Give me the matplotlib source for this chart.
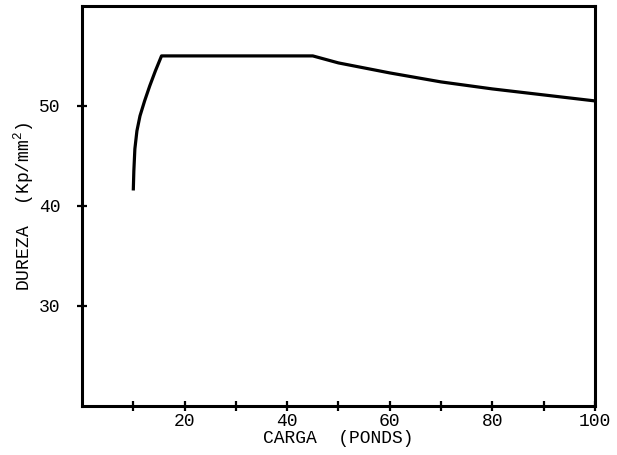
import numpy as np
import matplotlib
matplotlib.use('Agg')
import matplotlib.pyplot as plt

# Dureza vs carga
carga = [10, 10.1, 10.3, 10.7, 11.3, 12.2, 13.2, 14.3, 15.5, 20, 30, 40, 45,
         50, 60, 70, 80, 90, 100]
dureza = [41.7, 43.5, 45.7, 47.5, 49.0, 50.5, 52.0, 53.5, 55.0, 55.0, 55.0, 55.0, 55.0,
          54.3, 53.3, 52.4, 51.7, 51.1, 50.5]

x_ticks = [10, 20, 30, 40, 50, 60, 70, 80, 90, 100]
x_labels = ['', '20', '', '40', '', '60', '', '80', '', '100']
y_ticks = [30, 40, 50]
y_labels = ['30', '40', '50']

plt.rcParams['font.family'] = ['Liberation Mono', 'DejaVu Sans']
plt.rcParams['mathtext.fontset'] = 'custom'
plt.rcParams['mathtext.rm'] = 'Liberation Mono'

fig = plt.figure(figsize=(6.17, 4.55), dpi=100)
ax = fig.add_axes([0.133, 0.108, 0.831, 0.879])

ax.plot(carga, dureza, color='black', linewidth=2.3, solid_joinstyle='round')

ax.set_xlim(0, 100)
ax.set_ylim(20, 60)
ax.set_xticks(x_ticks)
ax.set_xticklabels(x_labels)
ax.set_yticks(y_ticks)
ax.set_yticklabels(y_labels)

for s in ax.spines.values():
    s.set_linewidth(2.2)

ax.tick_params(direction='inout', length=7, width=1.6, labelsize=13, colors='black')
ax.tick_params(axis='y', pad=12)
ax.tick_params(axis='x', pad=2)

ax.set_xlabel('CARGA  (PONDS)', fontsize=13, labelpad=0)
ax.set_ylabel('DUREZA  (Kp/mm$^2$)', fontsize=13, labelpad=2)

fig.savefig('out.png', dpi=100)
